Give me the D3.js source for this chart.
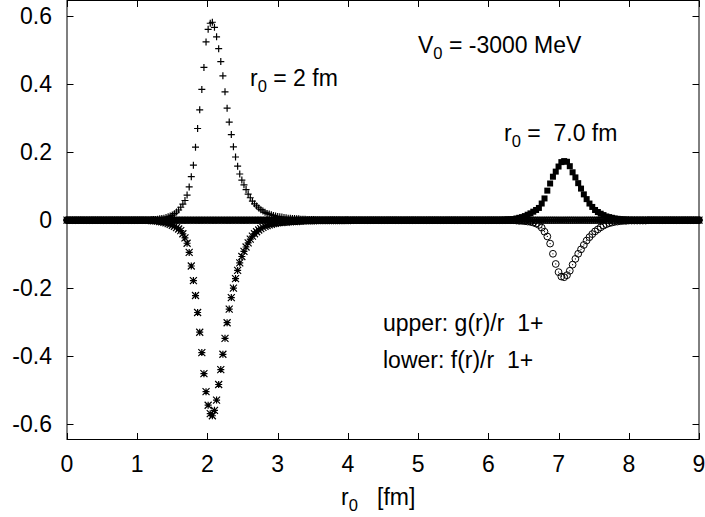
<!DOCTYPE html>
<html>
<head>
<meta charset="utf-8">
<script src="https://cdn.jsdelivr.net/npm/d3@7"></script>
<style>
  html, body { margin: 0; padding: 0; background: #fff; }
  svg { display: block; }
  text { font-family: "Liberation Sans", Arial, sans-serif; fill: #000; white-space: pre; }
</style>
</head>
<body>
<svg id="chart" width="705" height="517"></svg>
<script>
// ---------------- data ----------------
// radial grid for the r0 = 2 fm solution (step 0.03 fm, 0..9 fm)
const stepA = 0.03, nA = 301;
// radial grid for the r0 = 7.0 fm solution (step 0.04 fm, 0..9 fm)
const stepB = 0.04, nB = 226;

// r0 = 2 fm, upper component g(r)/r  (plus markers)
const g2 = [
  0,0,0,0,0,0,0,0,0,0, 0,0,0,0,0,0,0,0,0,0, 0,0,0,0,0,0,0,0,0,0, 0,0,0,0,0,0,0,0,0,0,
  .001,.002,.002,.003,.004,.005,.006,.008,.010,.012,
  .015,.019,.024,.030,.038,.047,.058,.074,.098,.128,
  .162,.215,.270,.325,.385,.450,.525,.562,.580,.583,
  .568,.540,.505,.467,.425,.378,.330,.289,.252,.216,
  .186,.159,.136,.118,.104,.090,.077,.066,.056,.048,
  .042,.036,.031,.027,.023,.020,.018,.016,.014,.012,
  .011,.010,.009,.008,.007,.006,.006,.005,.005,.004,
  .004,.003,.003,.003,.002,.002,.002,.002,.001,.001,
  .001,.001,.001,.001,.001,.001,.001,.001,.001,.001,
  .001,.001,.001,.001,0,0,0,0,0,0,
  0,0,0,0,0,0,0,0,0,0, 0,0,0,0,0,0,0,0,0,0, 0,0,0,0,0,0,0,0,0,0, 0,0,0,0,0,0,0,0,0,0,
  0,0,0,0,0,0,0,0,0,0, 0,0,0,0,0,0,0,0,0,0, 0,0,0,0,0,0,0,0,0,0, 0,0,0,0,0,0,0,0,0,0,
  0,0,0,0,0,0,0,0,0,0, 0,0,0,0,0,0,0,0,0,0, 0,0,0,0,0,0,0,0,0,0, 0,0,0,0,0,0,0,0,0,0,
  0,0,0,0,0,0,0,0,0,0, 0,0,0,0,0,0,0,0,0,0, 0,0,0,0,0,0,0,0,0,0, 0,0,0,0,0,0,0,0,0,0,
  0
];
// r0 = 2 fm, lower component f(r)/r  (asterisk markers)
const f2 = [
  0,0,0,0,0,0,0,0,0,0, 0,0,0,0,0,0,0,0,0,0, 0,0,0,0,0,0,0,0,0,0, 0,0,0,0,0,0,0,0,0,0,
  -.001,-.002,-.002,-.003,-.004,-.005,-.006,-.008,-.010,-.012,
  -.015,-.018,-.022,-.026,-.031,-.040,-.052,-.068,-.095,-.135,
  -.178,-.222,-.272,-.330,-.390,-.452,-.505,-.545,-.570,-.576,
  -.560,-.530,-.484,-.440,-.395,-.348,-.302,-.262,-.228,-.200,
  -.172,-.148,-.126,-.107,-.092,-.079,-.067,-.056,-.047,-.040,
  -.034,-.029,-.025,-.021,-.018,-.016,-.014,-.012,-.010,-.009,
  -.008,-.007,-.007,-.006,-.006,-.005,-.005,-.004,-.004,-.004,
  -.003,-.003,-.003,-.002,-.002,-.002,-.002,-.002,-.001,-.001,
  -.001,-.001,-.001,-.001,-.001,-.001,-.001,-.001,-.001,-.001,
  -.001,-.001,-.001,-.001,0,0,0,0,0,0,
  0,0,0,0,0,0,0,0,0,0, 0,0,0,0,0,0,0,0,0,0, 0,0,0,0,0,0,0,0,0,0, 0,0,0,0,0,0,0,0,0,0,
  0,0,0,0,0,0,0,0,0,0, 0,0,0,0,0,0,0,0,0,0, 0,0,0,0,0,0,0,0,0,0, 0,0,0,0,0,0,0,0,0,0,
  0,0,0,0,0,0,0,0,0,0, 0,0,0,0,0,0,0,0,0,0, 0,0,0,0,0,0,0,0,0,0, 0,0,0,0,0,0,0,0,0,0,
  0,0,0,0,0,0,0,0,0,0, 0,0,0,0,0,0,0,0,0,0, 0,0,0,0,0,0,0,0,0,0, 0,0,0,0,0,0,0,0,0,0,
  0
];
// r0 = 7.0 fm, upper component g(r)/r  (filled squares)
const g7 = [
  0,0,0,0,0,0,0,0,0,0, 0,0,0,0,0,0,0,0,0,0, 0,0,0,0,0,0,0,0,0,0, 0,0,0,0,0,0,0,0,0,0,
  0,0,0,0,0,0,0,0,0,0, 0,0,0,0,0,0,0,0,0,0, 0,0,0,0,0,0,0,0,0,0, 0,0,0,0,0,0,0,0,0,0,
  0,0,0,0,0,0,0,0,0,0, 0,0,0,0,0,0,0,0,0,0, 0,0,0,0,0,0,0,0,0,0, 0,0,0,0,0,0,0,0,0,0,
  0,0,0,0,0,0,0,0,0,0, 0,0,0,0,0,0,0,0,0,0, 0,0,0,0,0,0,0,0,0,0, 0,0,0,0,0,
  .001,.001,.002,.002,.003,.005,.007,.009,.012,.016,
  .020,.025,.030,.036,.049,.064,.087,.108,.128,.143,
  .158,.171,.174,.172,.159,.141,.126,.109,.093,.076,
  .062,.049,.039,.030,.024,.019,.015,.011,.009,.007,
  .005,.004,.003,.002,.002,.001,.001,.001,.001,.001,
  .001,.001,0,0,0,0,0,0,0,0,
  0,0,0,0,0,0,0,0,0,0,0
];
// r0 = 7.0 fm, lower component f(r)/r  (open circles)
const f7 = [
  0,0,0,0,0,0,0,0,0,0, 0,0,0,0,0,0,0,0,0,0, 0,0,0,0,0,0,0,0,0,0, 0,0,0,0,0,0,0,0,0,0,
  0,0,0,0,0,0,0,0,0,0, 0,0,0,0,0,0,0,0,0,0, 0,0,0,0,0,0,0,0,0,0, 0,0,0,0,0,0,0,0,0,0,
  0,0,0,0,0,0,0,0,0,0, 0,0,0,0,0,0,0,0,0,0, 0,0,0,0,0,0,0,0,0,0, 0,0,0,0,0,0,0,0,0,0,
  0,0,0,0,0,0,0,0,0,0, 0,0,0,0,0,0,0,0,0,0, 0,0,0,0,0,0,0,0,0,0, 0,0,0,0,0,
  0,0,0,0,0,-.001,-.002,-.002,-.003,-.004,
  -.005,-.007,-.010,-.014,-.022,-.034,-.048,-.069,-.099,-.129,
  -.153,-.166,-.168,-.162,-.149,-.131,-.114,-.099,-.086,-.073,
  -.060,-.050,-.041,-.033,-.027,-.021,-.016,-.012,-.009,-.007,
  -.005,-.004,-.003,-.002,-.002,-.001,-.001,-.001,-.001,-.001,
  -.001,-.001,0,0,0,0,0,0,0,0,
  0,0,0,0,0,0,0,0,0,0,0
];

const xTicks = [0,1,2,3,4,5,6,7,8,9];
const yTicks = [0.6,0.4,0.2,0,-0.2,-0.4,-0.6];
const yTickLabels = ["0.6","0.4","0.2","0","-0.2","-0.4","-0.6"];

[["g2",g2,nA],["f2",f2,nA],["g7",g7,nB],["f7",f7,nB]].forEach(([n,a,len]) => {
  if (a.length !== len) throw new Error(n + " length " + a.length + " != " + len);
});

// ---------------- layout ----------------
const svg = d3.select("#chart");
const x = d3.scaleLinear().domain([0, 9]).range([67, 699]);
const y = d3.scaleLinear().domain([-0.646, 0.647]).range([439.5, 0.5]);
const FS = 23;

const ptsA = d3.range(nA).map(i => i * stepA);
const ptsB = d3.range(nB).map(i => i * stepB);

const marks = svg.append("g");

function drawPlus(vals, grid, s) {
  const p = d3.path();
  vals.forEach((v, i) => {
    const cx = x(grid[i]), cy = y(v);
    p.moveTo(cx - s, cy); p.lineTo(cx + s, cy);
    p.moveTo(cx, cy - s); p.lineTo(cx, cy + s);
  });
  marks.append("path").attr("d", p.toString()).attr("stroke", "#000").attr("stroke-width", 1.2).attr("fill", "none");
}
function drawStar(vals, grid, s) {
  const p = d3.path();
  vals.forEach((v, i) => {
    const cx = x(grid[i]), cy = y(v);
    p.moveTo(cx - s, cy); p.lineTo(cx + s, cy);
    p.moveTo(cx, cy - s); p.lineTo(cx, cy + s);
    p.moveTo(cx - s, cy - s); p.lineTo(cx + s, cy + s);
    p.moveTo(cx - s, cy + s); p.lineTo(cx + s, cy - s);
  });
  marks.append("path").attr("d", p.toString()).attr("stroke", "#000").attr("stroke-width", 1.2).attr("fill", "none");
}

drawPlus(g2, ptsA, 3.5);
drawStar(f2, ptsA, 3.5);

marks.append("g").selectAll("rect").data(g7).join("rect")
  .attr("x", (v, i) => x(ptsB[i]) - 3)
  .attr("y", v => y(v) - 3)
  .attr("width", 6).attr("height", 6)
  .attr("fill", "#000");

const circ = marks.append("g");
circ.selectAll("circle.o").data(f7).join("circle").attr("class", "o")
  .attr("cx", (v, i) => x(ptsB[i]))
  .attr("cy", v => y(v))
  .attr("r", 3.4).attr("fill", "none").attr("stroke", "#000").attr("stroke-width", 1);
circ.selectAll("circle.d").data(f7).join("circle").attr("class", "d")
  .attr("cx", (v, i) => x(ptsB[i]))
  .attr("cy", v => y(v))
  .attr("r", 0.6).attr("fill", "#000");

// ---------------- frame & ticks ----------------
const frame = svg.append("g");
const x0 = x.range()[0], x1 = x.range()[1];
const yT = y.range()[1], yB = y.range()[0];
frame.append("rect").attr("x", x0).attr("y", yT).attr("width", x1 - x0).attr("height", yB - yT)
  .attr("fill", "none").attr("stroke", "#000").attr("stroke-width", 1);

const TL = 6.5;
xTicks.forEach(t => {
  const px = Math.round(x(t)) + 0.5;
  frame.append("line").attr("x1", px).attr("x2", px).attr("y1", yB).attr("y2", yB - TL).attr("stroke", "#000");
  frame.append("line").attr("x1", px).attr("x2", px).attr("y1", yT).attr("y2", yT + TL).attr("stroke", "#000");
  frame.append("text").attr("x", x(t)).attr("y", 472).attr("text-anchor", "middle")
    .attr("font-size", FS).text(t);
});
yTicks.forEach((t, i) => {
  const py = Math.round(y(t)) + 0.5;
  frame.append("line").attr("x1", x0).attr("x2", x0 + TL).attr("y1", py).attr("y2", py).attr("stroke", "#000");
  frame.append("line").attr("x1", x1).attr("x2", x1 - TL).attr("y1", py).attr("y2", py).attr("stroke", "#000");
  frame.append("text").attr("x", 52).attr("y", y(t) + 8).attr("text-anchor", "end")
    .attr("font-size", FS).text(yTickLabels[i]);
});

// ---------------- labels ----------------
function subLabel(px, py, main, sub, rest) {
  const t = svg.append("text").attr("x", px).attr("y", py).attr("font-size", FS);
  t.append("tspan").text(main);
  t.append("tspan").attr("font-size", FS * 0.72).attr("dy", 6).text(sub);
  t.append("tspan").attr("dy", -6).text(rest);
}
subLabel(418, 53, "V", "0", " = -3000 MeV");
subLabel(250, 86, "r", "0", " = 2 fm");
subLabel(504, 141, "r", "0", " =  7.0 fm");
subLabel(341, 505, "r", "0", "   [fm]");
svg.append("text").attr("x", 383).attr("y", 331).attr("font-size", FS).text("upper: g(r)/r  1+");
svg.append("text").attr("x", 383).attr("y", 368).attr("font-size", FS).text("lower: f(r)/r  1+");
</script>
</body>
</html>
